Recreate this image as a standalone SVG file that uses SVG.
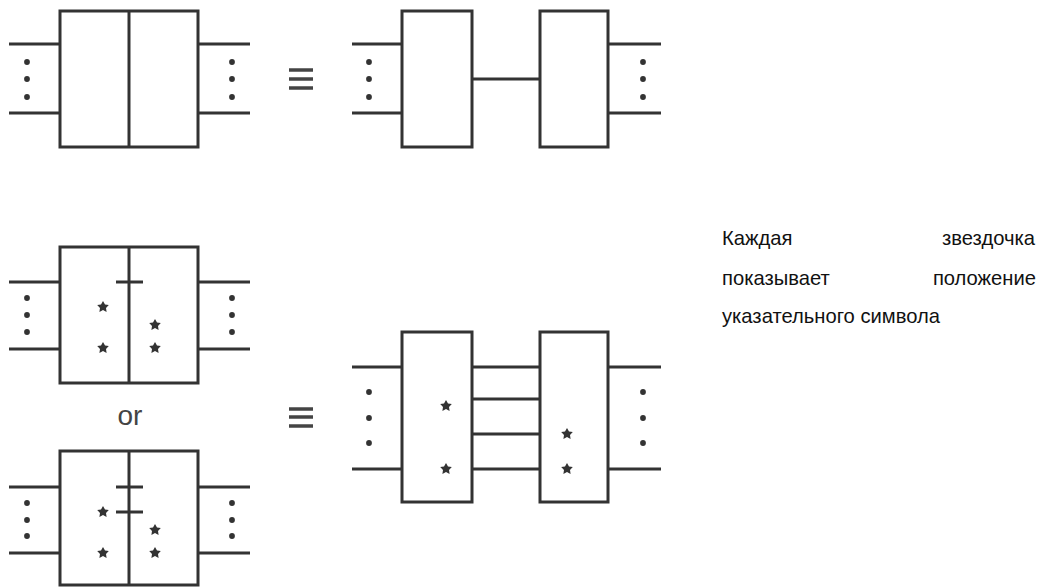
<svg xmlns="http://www.w3.org/2000/svg" width="1047" height="587" viewBox="0 0 1047 587">
<style>
.box{fill:none;stroke:#333;stroke-width:3}
.ln{stroke:#333;stroke-width:3;fill:none}
.dot{fill:#333}
.star{fill:#333}
.eq{stroke:#444;stroke-width:3.5}
.txt{font-family:"Liberation Sans",Arial,sans-serif;font-size:20.2px;fill:#111}
.or{font-family:"Liberation Sans",Arial,sans-serif;font-size:28px;fill:#444}
</style>
<defs>
<path id="st" d="M0,-6 L2,-2.4 5.8,-1.9 3,0.9 3.6,4.9 0,3 -3.6,4.9 -3,0.9 -5.8,-1.9 -2,-2.4Z"/>
</defs>
<rect width="1047" height="587" fill="#fff"/>

<g id="connectors">
<path class="ln" d="M9,44H60M9,113H60M198,44H250M198,113H250"/>
<path class="ln" d="M352,44H402M352,113H402M608,44H661M608,113H661M472,79H540"/>
<path class="ln" d="M9,282H60M9,349H60M198,282H250M198,349H250"/>
<path class="ln" d="M9,487H60M9,553H60M198,487H250M198,553H250"/>
<path class="ln" d="M352,367H402M352,469H402M608,367H661M608,469H661M472,367H540M472,399H540M472,434H540M472,469H540"/>
</g>

<g id="node-top-combined">
<rect class="box" x="60" y="11" width="138" height="136"/>
<line class="ln" x1="129" y1="11" x2="129" y2="147"/>
<g class="dot"><circle cx="27" cy="62" r="2.9"/><circle cx="27" cy="79" r="2.9"/><circle cx="27" cy="97" r="2.9"/>
<circle cx="232" cy="62" r="2.9"/><circle cx="232" cy="79" r="2.9"/><circle cx="232" cy="97" r="2.9"/></g>
</g>

<g id="equiv-top" class="eq"><line x1="289" y1="70" x2="313" y2="70"/><line x1="289" y1="79" x2="313" y2="79"/><line x1="289" y1="88" x2="313" y2="88"/></g>

<g id="node-top-left-box"><rect class="box" x="402" y="11" width="70" height="136"/>
<g class="dot"><circle cx="369" cy="62" r="2.9"/><circle cx="369" cy="79" r="2.9"/><circle cx="369" cy="97" r="2.9"/></g></g>
<g id="node-top-right-box"><rect class="box" x="540" y="11" width="68" height="136"/>
<g class="dot"><circle cx="643" cy="62" r="2.9"/><circle cx="643" cy="79" r="2.9"/><circle cx="643" cy="97" r="2.9"/></g></g>

<g id="node-mid-combined">
<rect class="box" x="60" y="247" width="138" height="136"/>
<line class="ln" x1="129" y1="247" x2="129" y2="383"/>
<line class="ln" x1="116" y1="282" x2="143" y2="282"/>
<g class="dot"><circle cx="27" cy="298" r="2.9"/><circle cx="27" cy="315" r="2.9"/><circle cx="27" cy="332" r="2.9"/>
<circle cx="232" cy="298" r="2.9"/><circle cx="232" cy="315" r="2.9"/><circle cx="232" cy="332" r="2.9"/></g>
<g class="star"><use href="#st" x="103" y="307"/><use href="#st" x="103" y="348"/><use href="#st" x="155" y="325"/><use href="#st" x="155" y="348"/></g>
</g>

<text class="or" x="130" y="425" text-anchor="middle">or</text>

<g id="node-bottom-combined">
<rect class="box" x="60" y="451" width="138" height="134"/>
<line class="ln" x1="129" y1="451" x2="129" y2="585"/>
<line class="ln" x1="116" y1="487" x2="143" y2="487"/>
<line class="ln" x1="116" y1="512" x2="143" y2="512"/>
<g class="dot"><circle cx="27" cy="503" r="2.9"/><circle cx="27" cy="520" r="2.9"/><circle cx="27" cy="536" r="2.9"/>
<circle cx="232" cy="503" r="2.9"/><circle cx="232" cy="520" r="2.9"/><circle cx="232" cy="536" r="2.9"/></g>
<g class="star"><use href="#st" x="103" y="512"/><use href="#st" x="103" y="553"/><use href="#st" x="155" y="530"/><use href="#st" x="155" y="553"/></g>
</g>

<g id="equiv-bottom" class="eq"><line x1="289" y1="409" x2="313" y2="409"/><line x1="289" y1="417" x2="313" y2="417"/><line x1="289" y1="426" x2="313" y2="426"/></g>

<g id="node-lower-left-box"><rect class="box" x="402" y="332" width="70" height="170"/>
<g class="dot"><circle cx="369" cy="392" r="2.9"/><circle cx="369" cy="418" r="2.9"/><circle cx="369" cy="443" r="2.9"/></g>
<g class="star"><use href="#st" x="446" y="406"/><use href="#st" x="446" y="469"/></g></g>
<g id="node-lower-right-box"><rect class="box" x="540" y="332" width="68" height="170"/>
<g class="dot"><circle cx="643" cy="392" r="2.9"/><circle cx="643" cy="418" r="2.9"/><circle cx="643" cy="443" r="2.9"/></g>
<g class="star"><use href="#st" x="567" y="434"/><use href="#st" x="567" y="469"/></g></g>

<g id="note" class="txt">
<text x="722" y="245">Каждая</text>
<text x="1035" y="245" text-anchor="end">звездочка</text>
<text x="722" y="285">показывает</text>
<text x="1036" y="285" text-anchor="end">положение</text>
<text x="722" y="323">указательного символа</text>
</g>
</svg>
